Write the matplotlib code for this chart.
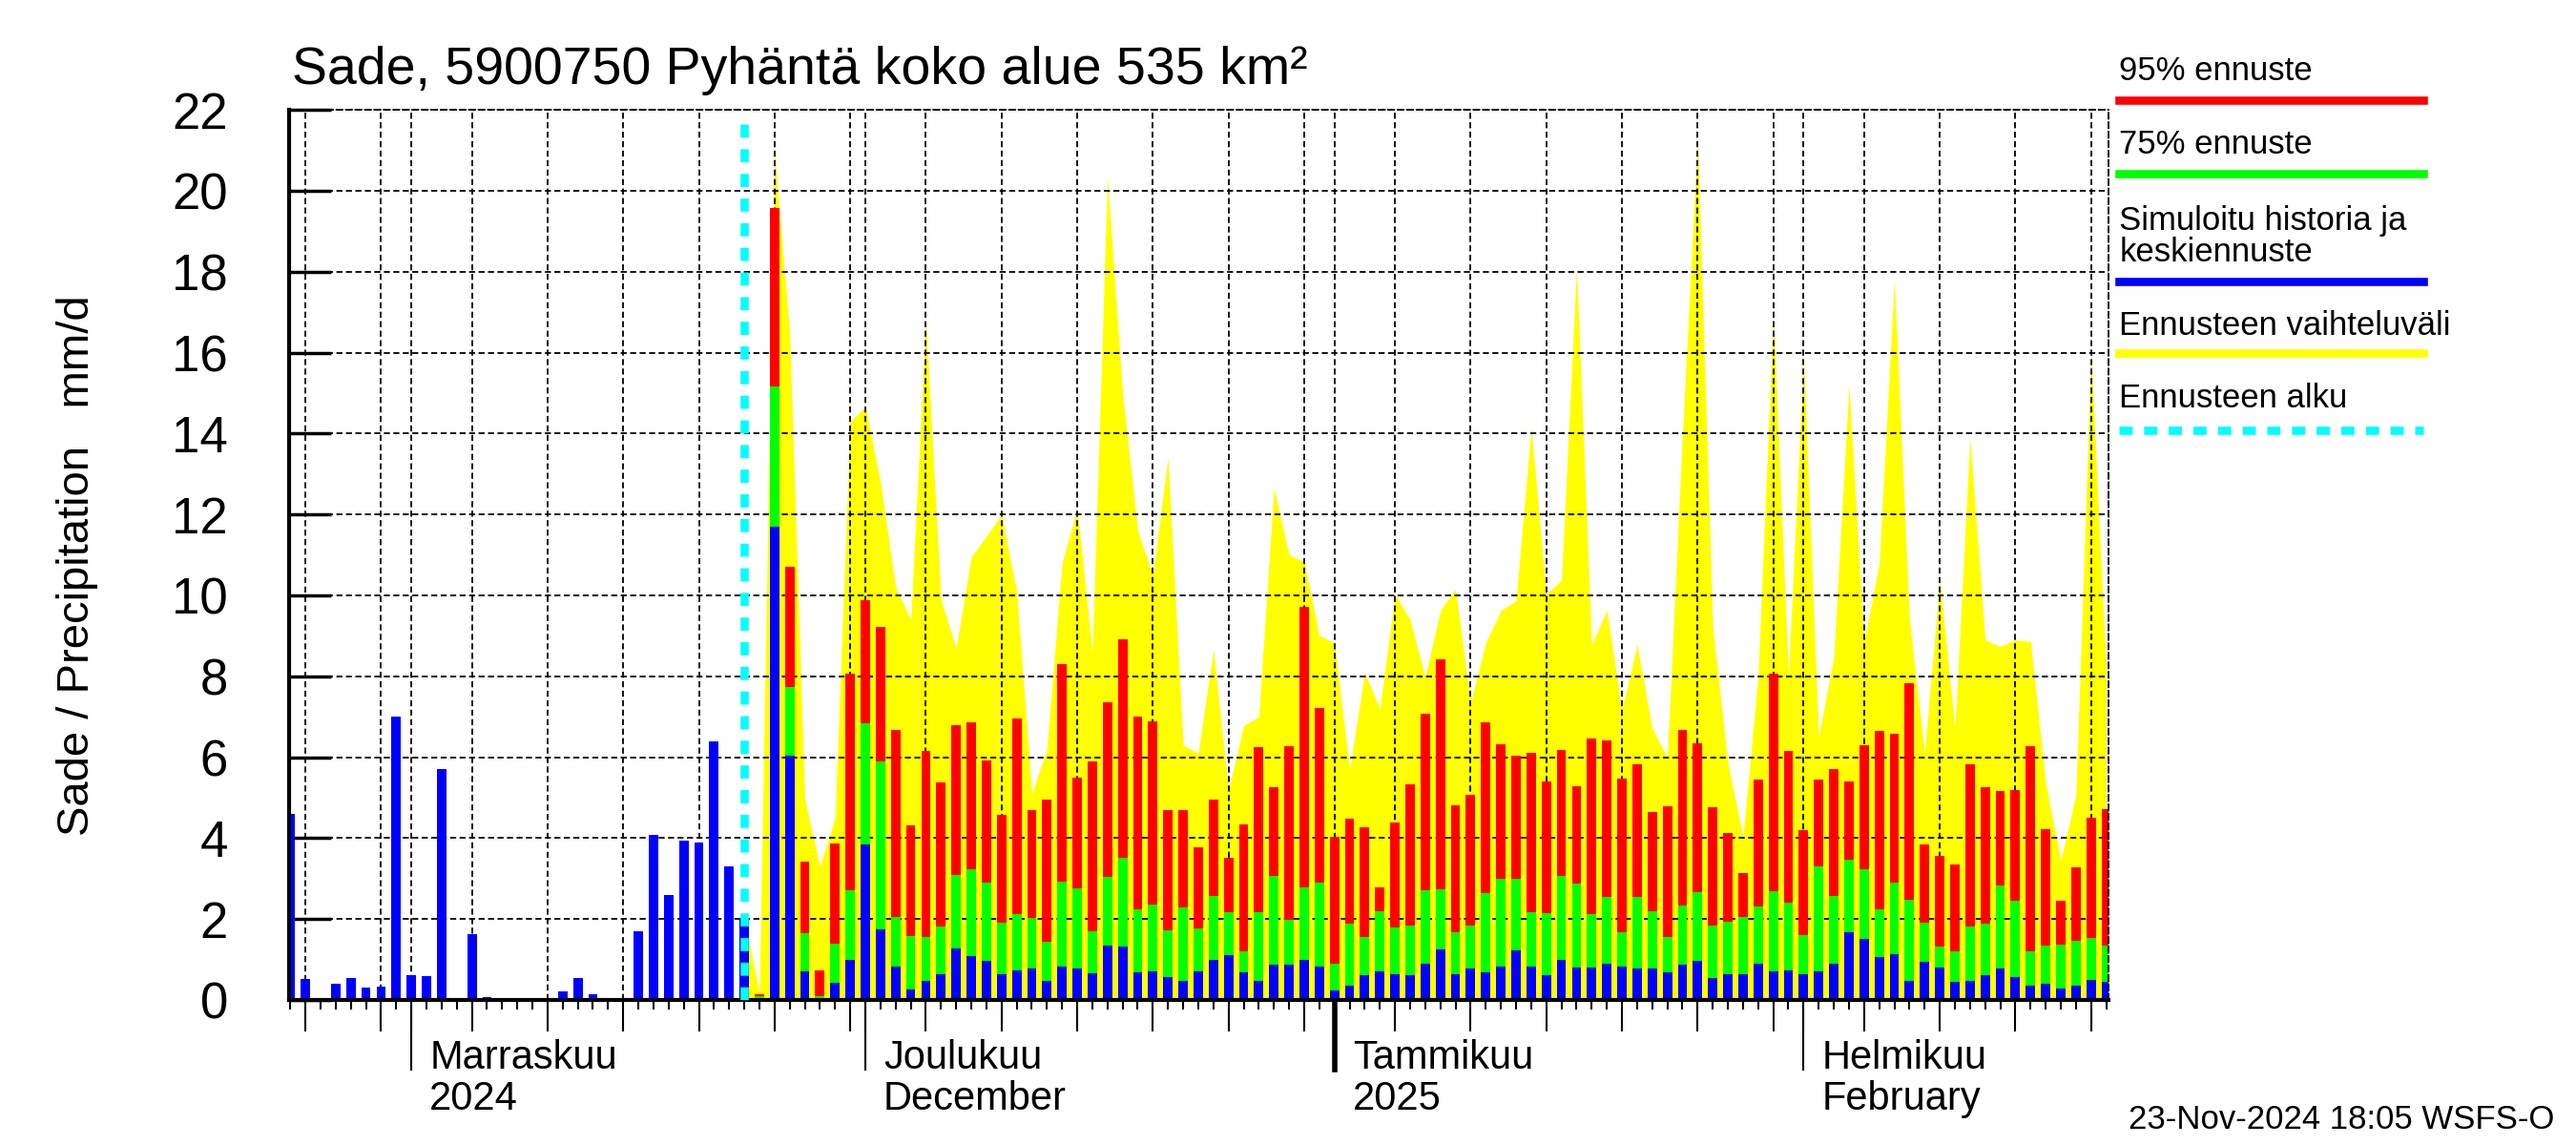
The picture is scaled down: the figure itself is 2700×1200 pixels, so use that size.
import numpy as np
import pandas as pd
import matplotlib
matplotlib.use('Agg')
import matplotlib.pyplot as plt
import matplotlib.dates as mdates
from matplotlib.lines import Line2D

plt.rcParams['font.family'] = ['Liberation Sans', 'DejaVu Sans']

# observed / simulated history (mm/d)
hist_dates = pd.date_range('2024-10-24', '2024-11-23')
hist_rain = [4.6, 0.51, 0.05, 0.41, 0.53, 0.31, 0.34, 7.0, 0.62, 0.6,
             5.7, 0.0, 1.63, 0.08, 0.03, 0.03, 0.03, 0.03, 0.22, 0.53,
             0.15, 0.05, 0.05, 1.7, 4.07, 2.6, 3.94, 3.9, 6.38, 3.3, 2.03]

# forecast bars
fc_dates = pd.date_range('2024-11-24', '2025-02-21')
fc_95 = [0.15, 19.57, 10.7, 3.42, 0.73, 3.86, 8.06, 9.87, 9.21, 6.67,
         4.31, 6.15, 5.37, 6.79, 6.86, 5.92, 4.57, 6.95, 4.69, 4.95,
         8.3, 5.49, 5.9, 7.35, 8.91, 7.0, 6.88, 4.69, 4.69, 3.77,
         4.95, 3.51, 4.35, 6.24, 5.26, 6.27, 9.71, 7.21, 4.03, 4.49,
         4.26, 2.78, 4.39, 5.33, 7.07, 8.41, 4.81, 5.06, 6.86, 6.32,
         6.03, 6.1, 5.39, 6.17, 5.28, 6.46, 6.41, 5.46, 5.82, 4.64,
         4.79, 6.67, 6.34, 4.77, 4.13, 3.13, 5.44, 8.06, 6.15, 4.19,
         5.44, 5.7, 5.39, 6.3, 6.65, 6.59, 7.83, 3.84, 3.55, 3.35,
         5.82, 5.26, 5.17, 5.19, 6.27, 4.22, 2.46, 3.28, 4.5, 4.71]
fc_75 = [0.1, 15.17, 7.73, 1.65, 0.09, 1.39, 2.72, 6.85, 5.9, 2.06,
         1.58, 1.55, 1.81, 3.09, 3.22, 2.9, 1.91, 2.11, 2.03, 1.44,
         2.93, 2.77, 1.69, 3.04, 3.51, 2.24, 2.35, 1.71, 2.29, 1.76,
         2.57, 2.17, 1.2, 2.17, 3.06, 1.98, 2.78, 2.9, 0.89, 1.89,
         1.55, 2.19, 1.79, 1.84, 2.71, 2.73, 1.67, 1.84, 2.64, 2.99,
         2.99, 2.17, 2.15, 3.06, 2.87, 2.11, 2.55, 1.67, 2.55, 2.19,
         1.55, 2.33, 2.66, 1.84, 1.93, 2.05, 2.31, 2.69, 2.4, 1.6,
         3.31, 2.57, 3.46, 3.22, 2.24, 2.9, 2.47, 1.91, 1.31, 1.2,
         1.82, 1.89, 2.82, 2.45, 1.2, 1.34, 1.36, 1.46, 1.53, 1.34]
fc_mean = [0.05, 11.7, 6.03, 0.71, 0.0, 0.43, 0.98, 3.84, 1.74, 0.82,
           0.25, 0.48, 0.63, 1.27, 1.09, 0.96, 0.63, 0.73, 0.78, 0.47,
           0.82, 0.78, 0.66, 1.34, 1.31, 0.69, 0.71, 0.56, 0.46, 0.71,
           0.98, 1.11, 0.69, 0.48, 0.87, 0.87, 1.0, 0.82, 0.23, 0.35,
           0.61, 0.71, 0.63, 0.61, 0.89, 1.25, 0.63, 0.78, 0.69, 0.82,
           1.22, 0.82, 0.61, 0.98, 0.8, 0.8, 0.89, 0.82, 0.78, 0.78,
           0.69, 0.87, 0.96, 0.54, 0.63, 0.63, 0.89, 0.71, 0.73, 0.63,
           0.71, 0.89, 1.67, 1.51, 1.05, 1.13, 0.48, 0.94, 0.8, 0.45,
           0.48, 0.61, 0.78, 0.56, 0.35, 0.4, 0.29, 0.35, 0.49, 0.45]

# forecast range (upper edge of yellow band)
range_dates = pd.date_range('2024-11-23', '2025-02-21')
range_max = [2.03, 0.15, 20.98, 16.5, 4.95, 3.3, 4.5, 14.3, 14.66, 12.8,
             10.2, 9.4, 16.8, 9.9, 8.7, 10.95, 11.46, 12.0, 10.1, 5.1,
             6.2, 10.8, 12.15, 8.6, 20.35, 15.0, 11.6, 10.5, 13.4, 6.3,
             6.1, 8.66, 5.18, 6.78, 7.0, 12.66, 11.0, 10.83, 9.0, 8.83,
             5.69, 8.09, 7.19, 10.03, 9.4, 7.98, 9.63, 10.15, 7.35, 8.83,
             9.63, 9.86, 14.15, 10.03, 10.38, 18.1, 8.78, 9.63, 7.18, 8.78,
             6.72, 5.98, 14.0, 21.3, 9.2, 5.86, 4.03, 8.03, 17.0, 8.0,
             15.86, 6.5, 8.5, 15.2, 8.83, 10.8, 17.8, 9.4, 6.1, 10.4,
             6.7, 13.9, 8.9, 8.74, 8.9, 8.86, 5.35, 3.46, 5.06, 16.0, 8.15]

forecast_start = pd.Timestamp('2024-11-23')
month_starts = pd.to_datetime(['2024-11-01', '2024-12-01', '2025-01-01', '2025-02-01'])
month_labels = ['Marraskuu\n2024', 'Joulukuu\nDecember', 'Tammikuu\n2025', 'Helmikuu\nFebruary']

x_min = pd.Timestamp('2024-10-24') - pd.Timedelta(hours=2)
x_max = pd.Timestamp('2025-02-21') + pd.Timedelta(hours=4)

fig = plt.figure(figsize=(27, 12), dpi=100)
ax = fig.add_axes([0.1122, 0.1267, 0.7064, 0.7773])

hx = mdates.date2num(hist_dates)
fx = mdates.date2num(fc_dates)
rx = mdates.date2num(range_dates)
bw = 0.62

ax.fill_between(rx, 0, range_max, color='#ffff00', lw=0, zorder=1)

# grid: every 5th day and month starts, inside the visible range
grid_ls = (0, (3.5, 2))
all_days = pd.date_range(x_min.ceil('D'), x_max.floor('D'))
grid_days = [d for d in all_days if d.day in (1, 5, 10, 15, 20, 25, 30)]
for d in grid_days:
    ax.axvline(mdates.date2num(d), color='black', lw=1.3, ls=grid_ls, zorder=1.5)
for v in range(2, 23, 2):
    ax.axhline(v, color='black', lw=1.3, ls=grid_ls, zorder=1.5)

ax.bar(hx, hist_rain, width=bw, color='#0000ff', zorder=2)
ax.bar(fx, fc_95, width=bw, color='#ff0000', zorder=2)
ax.bar(fx, fc_75, width=bw, color='#00ff00', zorder=2.1)
ax.bar(fx, fc_mean, width=bw, color='#0000ff', zorder=2.2)

ax.axvline(mdates.date2num(forecast_start), ymax=0.985, color='#00ffff', lw=6.2,
           ls=(0, (1.6, 1.4)), zorder=3)

for s in ['top', 'right']:
    ax.spines[s].set_linestyle(grid_ls)
    ax.spines[s].set_linewidth(1.3)
for s in ['left', 'bottom']:
    ax.spines[s].set_linewidth(3.0)

ax.set_yticks(range(0, 23, 2))
ax.tick_params(axis='y', direction='in', length=32, width=2.5, labelsize=38, pad=46)

ax.set_xticks(mdates.date2num(grid_days))
ax.set_xticklabels([])
ax.set_xticks(mdates.date2num(all_days), minor=True)
ax.tick_params(axis='x', which='major', direction='out', length=24, width=1.5)
ax.tick_params(axis='x', which='minor', direction='out', length=7, width=1.5)

ax.set_xlim(mdates.date2num(x_min), mdates.date2num(x_max))
ax.set_ylim(0, 22)

for d, lab in zip(month_starts, month_labels):
    xd = mdates.date2num(d)
    ax.plot([xd, xd], [0, -0.078], transform=ax.get_xaxis_transform(), color='black',
            lw=4 if d.month == 1 else 1.5, clip_on=False)
    ax.text(xd + 1.2, -0.044, lab, transform=ax.get_xaxis_transform(), ha='left', va='top',
            fontsize=30, linespacing=1.1)

fig.text(0.1135, 0.9267, 'Sade, 5900750 Pyhäntä koko alue 535 km²', fontsize=40, ha='left', va='baseline')
fig.text(0.030, 0.506, 'Sade / Precipitation   mm/d', fontsize=34, rotation=90, ha='center', va='center')
fig.text(0.9917, 0.0143, '23-Nov-2024 18:05 WSFS-O', fontsize=25, ha='right', va='baseline')

# legend at right
leg_x0, leg_x1 = 0.8227, 0.9407
legend_items = [
    ('95% ennuste', '#ff0000', '-', 49, 61),
    ('75% ennuste', '#00ff00', '-', 94, 106),
    ('Simuloitu historia ja\nkeskiennuste', '#0000ff', '-', 160, 172),
    ('Ennusteen vaihteluväli', '#ffff00', '-', 205, 216),
    ('Ennusteen alku', '#00ffff', (0, (1.6, 1.4)), 249, 263),
]
for txt, col, ls, ty, ly in legend_items:
    fig.text(leg_x0, 1 - ty / 700, txt, fontsize=25, ha='left', va='baseline', linespacing=1.0)
    fig.add_artist(Line2D([leg_x0, leg_x1], [1 - ly / 700, 1 - ly / 700], color=col, lw=6.2, ls=ls))

fig.savefig('out.png', dpi=100)
